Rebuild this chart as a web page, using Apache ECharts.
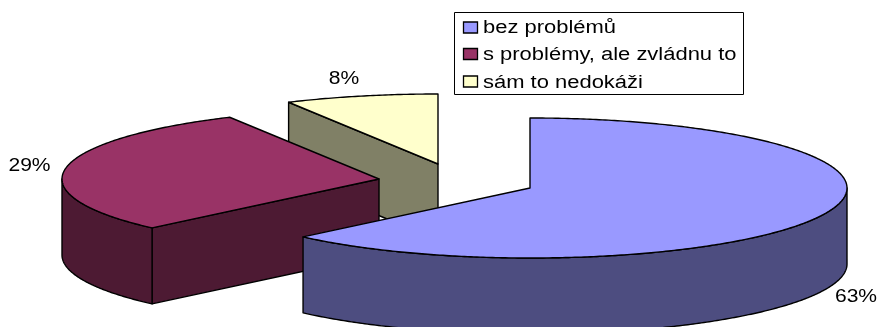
<!DOCTYPE html>
<html><head><meta charset="utf-8">
<style>html,body{margin:0;padding:0;background:#fff}#c{width:880px;height:327px}</style>
<script src="https://cdn.jsdelivr.net/npm/echarts@6/dist/echarts.min.js"></script>
</head><body><div id="c"></div>
<script>
const categories = ['bez problémů', 's problémy, ale zvládnu to', 'sám to nedokáži'];
const shares = [62.7, 29.49, 7.81];
const topColors = ['#9999FF', '#993366', '#FFFFCC'];
const sideColors = ['#4D4D80', '#4D1A33', '#808066'];

const RX = 317, RY = 70, DEPTH = 76;
const centers = [[530, 188], [379, 179], [438, 164]];
const labelAt = [[856, 297], [29.5, 166], [344, 79]];
const legendRowsY = [27.5, 54, 81.5];
const legendTextY = [28.5, 55, 83.5];
const FONT = '18px "Liberation Sans"';
const total = shares.reduce((a, b) => a + b, 0);

function pt(c, t, dy) { return [c[0] + RX * Math.sin(t), c[1] - RY * Math.cos(t) + (dy || 0)]; }
function arc(c, a, b, dy) {
  const n = Math.max(2, Math.ceil(Math.abs(b - a) / 0.01)), out = [];
  for (let i = 0; i <= n; i++) out.push(pt(c, a + (b - a) * i / n, dy));
  return out;
}
function face(points, fill) {
  return { type: 'polygon', shape: { points }, style: { fill, stroke: '#000', lineWidth: 1.4, lineJoin: 'round' } };
}
function sliceRange(i) {
  const before = shares.slice(0, i).reduce((a, b) => a + b, 0);
  return [before / total * 2 * Math.PI, (before + shares[i]) / total * 2 * Math.PI];
}
function renderSlice(i) {
  const [a, b] = sliceRange(i), c = centers[i], side = sideColors[i], ch = [];
  const bottomC = [c[0], c[1] + DEPTH];
  if (Math.sin(a) < 0) ch.push(face([c, pt(c, a), pt(bottomC, a), bottomC], side));
  if (Math.sin(b) > 0) ch.push(face([c, pt(c, b), pt(bottomC, b), bottomC], side));
  const wa = Math.max(a, Math.PI / 2), wb = Math.min(b, 3 * Math.PI / 2);
  if (wb > wa) ch.push(face(arc(c, wa, wb).concat(arc(c, wb, wa, DEPTH)), side));
  ch.push(face([c].concat(arc(c, a, b)), topColors[i]));
  ch.push({ type: 'text', x: labelAt[i][0], y: labelAt[i][1], scaleX: 1.17, style: {
    text: Math.round(shares[i]) + '%', fill: '#000', font: FONT, align: 'center', verticalAlign: 'middle' } });
  return { type: 'group', children: ch };
}
const series = [2, 1, 0].map(i => ({
  type: 'custom', name: categories[i], coordinateSystem: 'none', silent: true, animation: false,
  data: [shares[i]], itemStyle: { color: topColors[i] },
  renderItem: () => renderSlice(i)
}));
const legendGraphic = [{
  type: 'rect', shape: { x: 454.5, y: 12.5, width: 289, height: 82 },
  style: { fill: '#fff', stroke: '#000', lineWidth: 1 }, silent: true, z: 10
}];
categories.forEach((name, i) => {
  legendGraphic.push({
    type: 'rect', shape: { x: 463.5, y: legendRowsY[i] - 5.5, width: 14, height: 11 },
    style: { fill: topColors[i], stroke: '#000', lineWidth: 1.3 }, silent: true, z: 11
  });
  legendGraphic.push({
    type: 'text', x: 483, y: legendTextY[i], scaleX: 1.22, silent: true, z: 11,
    style: { text: name, fill: '#000', font: FONT, align: 'left', verticalAlign: 'middle' }
  });
});
echarts.init(document.getElementById('c'), null, { renderer: 'canvas' }).setOption({
  animation: false,
  series,
  graphic: { elements: legendGraphic }
});
</script></body></html>
